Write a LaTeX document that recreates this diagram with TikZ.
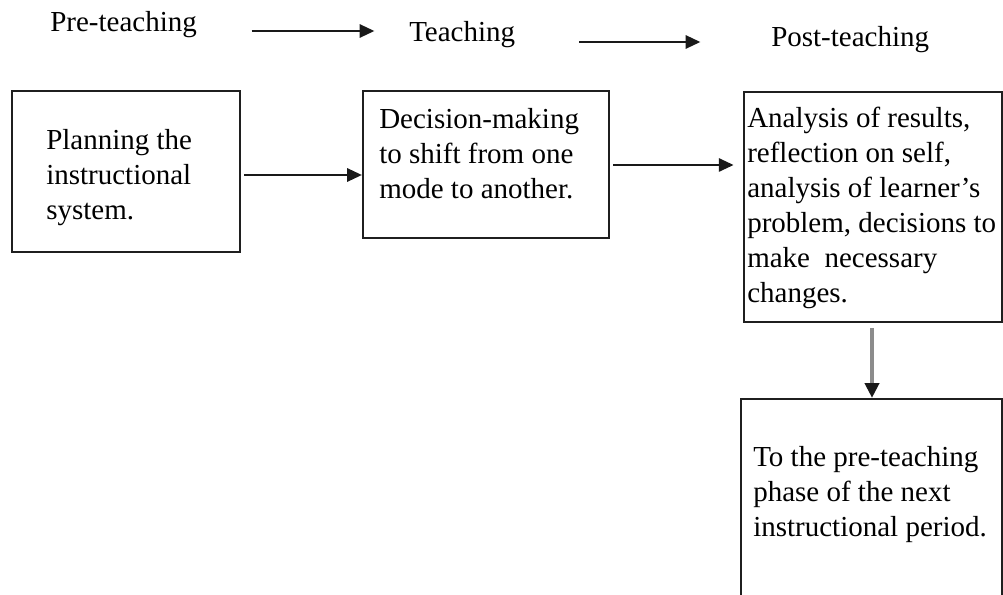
\documentclass[tikz,border=0pt]{standalone}
\usepackage{fontspec}
\setmainfont{Liberation Serif}
\usetikzlibrary{arrows.meta}
\begin{document}
\begin{tikzpicture}[x=0.75pt,y=-0.75pt,
  box/.style={draw=black!88, line width=1.7pt, inner sep=0pt},
  txt/.style={anchor=base west, inner sep=0pt, font=\fontsize{21.75}{26.25}\selectfont},
  arr/.style={draw=black!90, line width=1.35pt, -{Triangle[length=11pt,width=10pt]}},
  darr/.style={draw=black!45, line width=2.6pt, -{Triangle[color=black!90,length=11pt,width=10.5pt]}}
]
\path[use as bounding box] (0,0) rectangle (1003,595);
\clip (0,0) rectangle (1003,595);

% headings
\node[txt] (pre) at (50,32) {Pre-teaching};
\node[txt] (teach) at (409,42) {Teaching};
\node[txt] (post) at (771,47) {Post-teaching};

% boxes
\node[box, minimum width=171pt, minimum height=120.75pt] (b1) at (126,171.5) {};
\node[box, minimum width=184.5pt, minimum height=110.25pt] (b2) at (486,164.5) {};
\node[box, minimum width=193.5pt, minimum height=172.5pt] (b3) at (873,207) {};
\node[box, minimum width=195.75pt, minimum height=165.75pt] (b4) at (871.5,509.5) {};

% box texts
\node[txt] (t1) at (46,150) {\parbox[t]{170pt}{\raggedright Planning the\\instructional\\system.}};
\node[txt] (t2) at (379,129) {\parbox[t]{180pt}{\raggedright Decision-making\\to shift from one\\mode to another.}};
\node[txt] (t3) at (747,128) {\parbox[t]{200pt}{\raggedright Analysis of results,\\reflection on self,\\analysis of learner’s\\problem, decisions to\\make~ necessary\\changes.}};
\node[txt] (t4) at (753,466) {\parbox[t]{200pt}{\raggedright To the pre-teaching\\phase of the next\\instructional period.}};

% heading arrows
\draw[arr, shorten <=41pt, shorten >=26pt] (pre.east |- 0,31) -- (teach.west |- 0,31);
\draw[arr, shorten <=48pt, shorten >=53pt] (teach.east |- 0,42) -- (post.west |- 0,42);

% box arrows
\draw[arr, shorten <=2.5pt] (b1.east |- 0,175) -- (b2.west |- 0,175);
\draw[arr, shorten <=2.5pt, shorten >=7pt] (b2.east |- 0,165) -- (b3.west |- 0,165);
\draw[darr, shorten <=3.5pt] (b3.south -| 872,0) -- (b4.north -| 872,0);
\end{tikzpicture}
\end{document}
